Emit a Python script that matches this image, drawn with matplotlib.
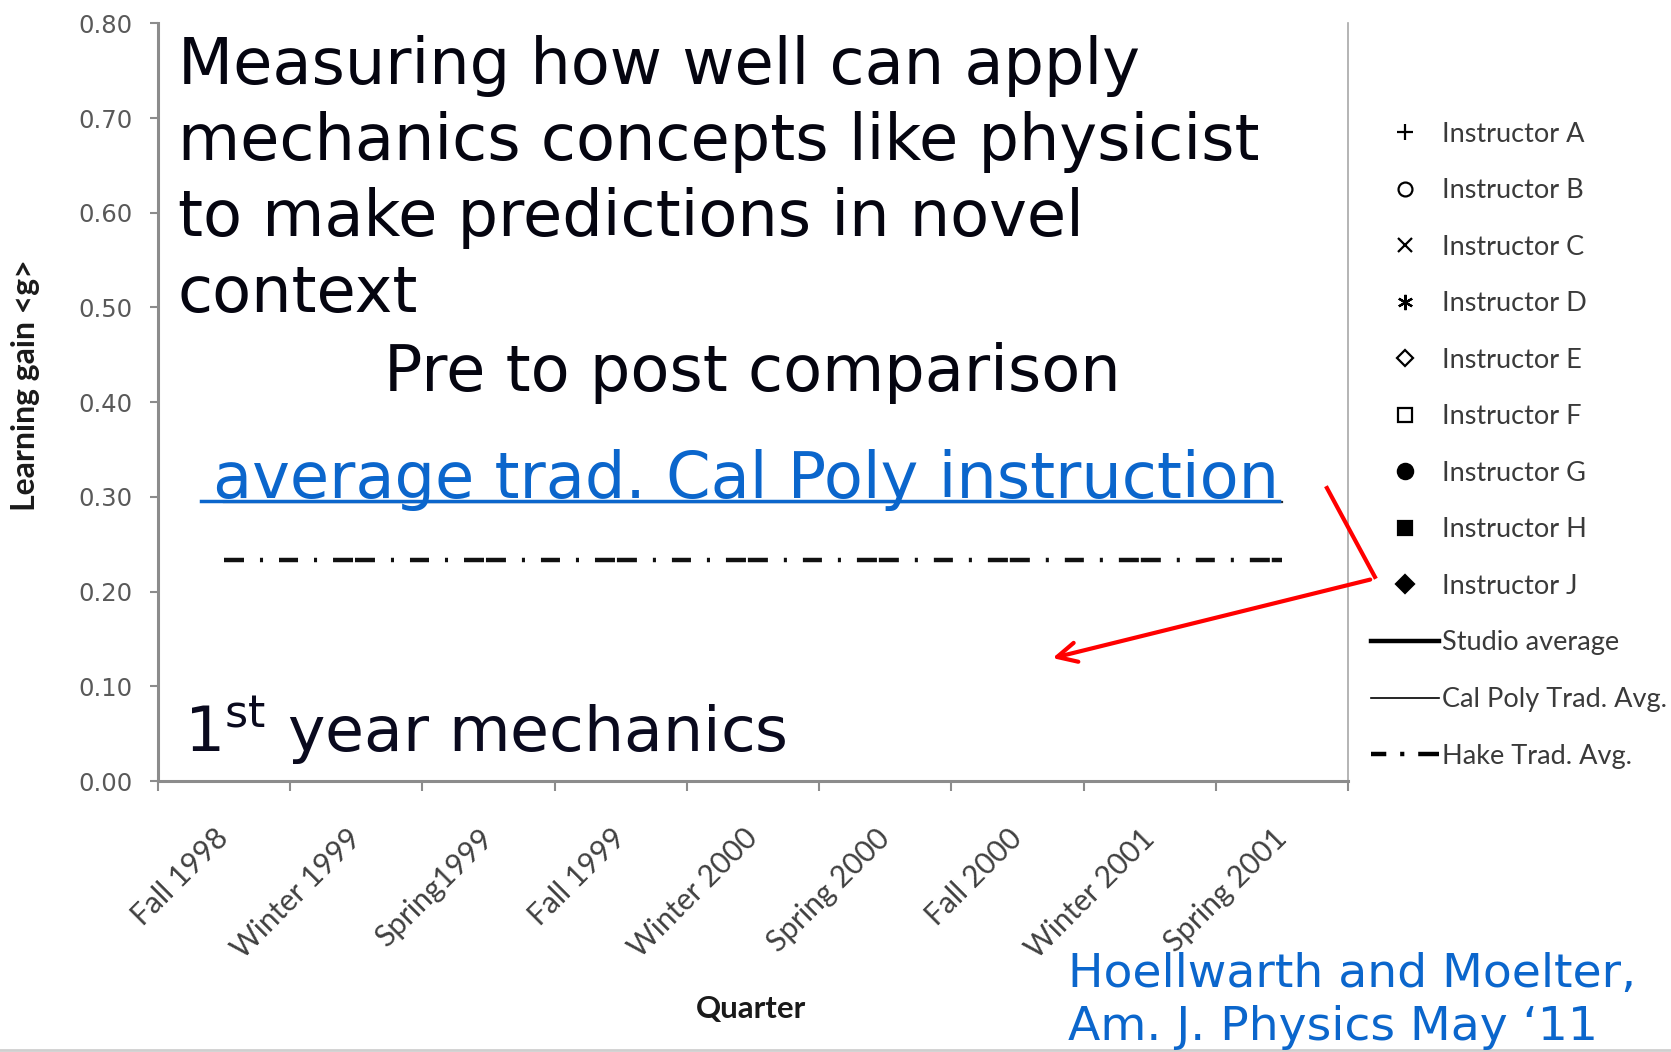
import numpy as np
import matplotlib.pyplot as plt
from matplotlib.lines import Line2D
from matplotlib.patches import FancyArrowPatch

# Valores
quarters = ['Fall 1998', 'Winter 1999', 'Spring1999', 'Fall 1999', 'Winter 2000',
            'Spring 2000', 'Fall 2000', 'Winter 2001', 'Spring 2001']
calpoly_trad = [0.295, 0.295, 0.295, 0.295, 0.295, 0.295, 0.295, 0.295, 0.295]
hake_trad = [0.233, 0.233, 0.233, 0.233, 0.233, 0.233, 0.233, 0.233, 0.233]
y_ticks = [0.0, 0.1, 0.2, 0.3, 0.4, 0.5, 0.6, 0.7, 0.8]
instructors = ['Instructor A', 'Instructor B', 'Instructor C', 'Instructor D', 'Instructor E',
               'Instructor F', 'Instructor G', 'Instructor H', 'Instructor J']
avg_labels = ['Studio average', 'Cal Poly Trad. Avg.', 'Hake Trad. Avg.']

# estilo dos marcadores da legenda
instr_markers = ['+', 'o', 'x', (6, 2, 0), 'D', 's', 'o', 's', 'D']
instr_fill = ['k', 'white', 'k', 'k', 'white', 'white', 'k', 'k', 'k']
instr_size = [11, 10, 10, 11, 8, 10, 11, 10, 9]

# traço-ponto do Hake (em pontos)
hake_dash = (54.7, (13.7, 11.5, 2.2, 11.5, 14.4, 1.4, 14.4, 11.5, 2.2, 11.5))

plt.rcParams['lines.scale_dashes'] = False
blue = '#0b66cc'
axis_gray = '#8c8c8c'

fig = plt.figure(figsize=(16.71, 10.52), dpi=100)
ax = fig.add_axes([0.0945, 0.2576, 0.7122, 0.7202])

x = np.arange(len(quarters))
ax.plot(x, calpoly_trad, color='#2a2a2a', lw=1.6)
ax.plot(x, hake_trad, color='#111111', lw=3.2, linestyle=hake_dash)

ax.set_xlim(-0.5, len(quarters) - 0.5)
ax.set_ylim(0, 0.8)
ax.set_yticks(y_ticks)
ax.set_yticklabels([f'{v:.2f}' for v in y_ticks], fontsize=17.5, color='#595959')
ax.set_xticks(np.arange(len(quarters) + 1) - 0.5)
ax.set_xticklabels([])
ax.set_xticks(x, minor=True)
ax.set_xticklabels(quarters, minor=True, rotation=45, ha='right', va='center',
                   rotation_mode='anchor', fontfamily='Lato', fontsize=21.5, color='#404040')
ax.tick_params(axis='x', which='minor', length=0, pad=38)
ax.tick_params(axis='x', which='major', length=7, width=1.5, color=axis_gray)
ax.tick_params(axis='y', length=6, width=1.5, color=axis_gray, pad=12)

for s in ['left', 'bottom']:
    ax.spines[s].set_color(axis_gray)
    ax.spines[s].set_linewidth(2.2)
ax.spines['right'].set_color('#a8a8a8')
ax.spines['right'].set_linewidth(1.2)
ax.spines['top'].set_visible(False)

ax.set_ylabel('Learning gain <g>', fontfamily='Lato', fontweight='bold', fontsize=23, color='#1a1a1a')
ax.yaxis.set_label_coords(-0.111, 0.523)
ax.yaxis.label.set_verticalalignment('center')
ax.set_xlabel('Quarter', fontfamily='Lato', fontweight='bold', fontsize=22.5, color='#1a1a1a')
ax.xaxis.set_label_coords(0.498, -0.301)
ax.xaxis.label.set_verticalalignment('center')

# legenda
handles = []
for m, fc, ms in zip(instr_markers, instr_fill, instr_size):
    handles.append(Line2D([], [], ls='none', marker=m, ms=ms, mfc=fc, mec='k', mew=1.6, color='k'))
handles.append(Line2D([], [], color='k', lw=3.2))
handles.append(Line2D([], [], color='k', lw=1.2))
handles.append(Line2D([], [], color='k', lw=3.2, dashes=(11, 10, 3, 10, 11, 0)))
fig.legend(handles, instructors + avg_labels, loc='upper left', bbox_to_anchor=(0.8205, 0.8845),
           frameon=False, borderpad=0, borderaxespad=0, handlelength=2.51, handletextpad=0.1,
           labelspacing=1.165, prop={'family': 'Lato', 'size': 19.5}, labelcolor='#3a3a3a')

# textos da caixa sobreposta
fig.text(0.1065, 0.967, 'Measuring how well can apply\nmechanics concepts like physicist\n'
         'to make predictions in novel\ncontext', fontsize=46, va='top', ha='left',
         color='#050510', linespacing=1.29)
fig.text(0.450, 0.675, 'Pre to post comparison', fontsize=46, va='top', ha='center', color='#050510')
link = fig.text(0.1276, 0.5266, 'average trad. Cal Poly instruction', fontsize=46,
                va='baseline', ha='left', color=blue)
fig.text(0.110, 0.286, '1$^{\\mathrm{st}}$ year mechanics', fontsize=45.5, va='baseline',
         ha='left', color='#0a0a1e')
fig.text(0.639, 0.095, 'Hoellwarth and Moelter,\nAm. J. Physics May \u201811', fontsize=34,
         va='top', ha='left', color=blue, linespacing=1.22)

# sublinhado do link
fig.canvas.draw()
bb = link.get_window_extent(fig.canvas.get_renderer()).transformed(fig.transFigure.inverted())
fig.add_artist(Line2D([bb.x0 - 0.0075, bb.x1], [0.5238, 0.5238], transform=fig.transFigure,
                      color=blue, lw=2.5))

# seta vermelha
fig.add_artist(Line2D([0.7941, 0.8228], [0.5361, 0.4516], transform=fig.transFigure,
                      color='red', lw=3))
fig.add_artist(FancyArrowPatch((0.8216, 0.4497), (0.6283, 0.3738), transform=fig.transFigure,
                               arrowstyle='->', mutation_scale=35, color='red', lw=3))

fig.add_artist(Line2D([0, 1], [0.0015, 0.0015], transform=fig.transFigure, color='#cfcfcf', lw=2))

fig.savefig('out.png', dpi=100)
